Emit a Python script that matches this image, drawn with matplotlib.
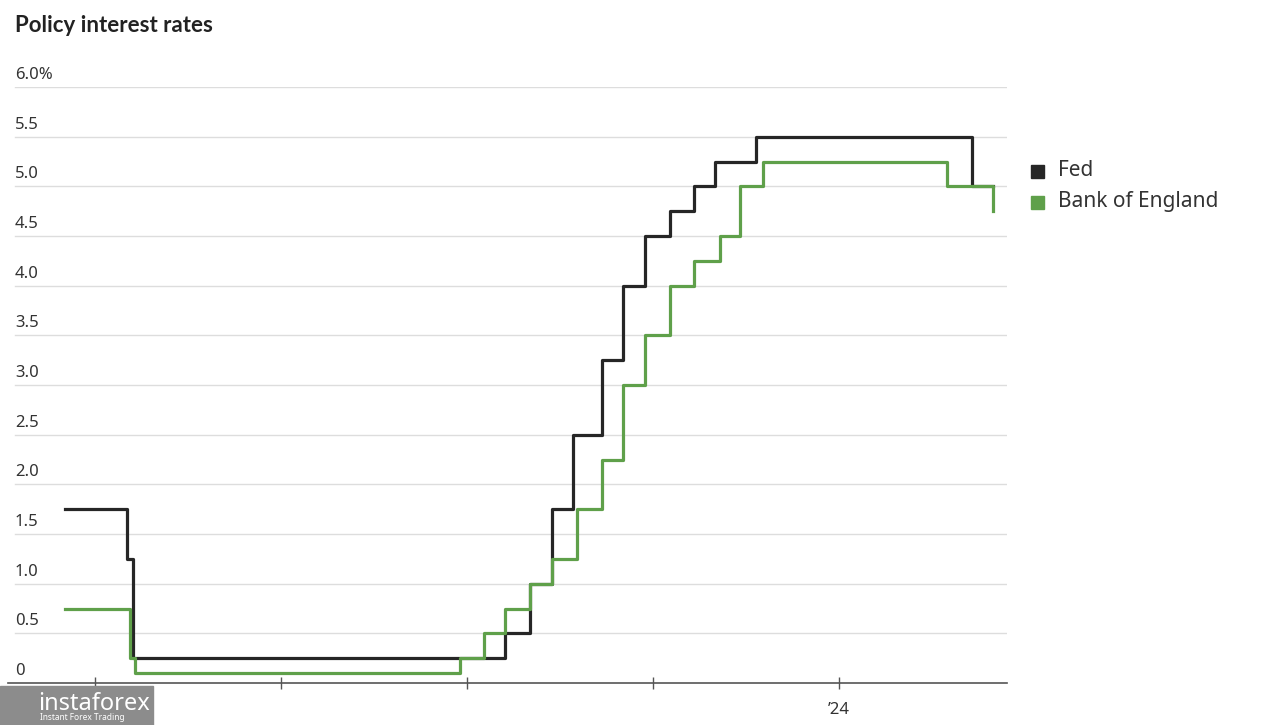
import matplotlib.pyplot as plt
import matplotlib.transforms as mtransforms
from matplotlib.patches import Rectangle

# Policy rates, step changes (fractional year, rate %)
fed_dates = [2019.84, 2020.17, 2020.205, 2022.205, 2022.34, 2022.455, 2022.57,
             2022.725, 2022.84, 2022.955, 2023.09, 2023.22, 2023.335, 2023.555,
             2024.715, 2024.83]
fed_rates = [1.75, 1.25, 0.25, 0.5, 1.0, 1.75, 2.5,
             3.25, 4.0, 4.5, 4.75, 5.0, 5.25, 5.5,
             5.0, 5.0]

boe_dates = [2019.84, 2020.19, 2020.215, 2021.96, 2022.09, 2022.205, 2022.34,
             2022.455, 2022.59, 2022.725, 2022.84, 2022.955, 2023.09, 2023.22,
             2023.36, 2023.47, 2023.59, 2024.58, 2024.83, 2024.83]
boe_rates = [0.75, 0.25, 0.1, 0.25, 0.5, 0.75, 1.0,
             1.25, 1.75, 2.25, 3.0, 3.5, 4.0, 4.25,
             4.5, 5.0, 5.25, 5.0, 4.75, 4.75]

y_ticks = [0, 0.5, 1.0, 1.5, 2.0, 2.5, 3.0, 3.5, 4.0, 4.5, 5.0, 5.5, 6.0]
y_labels = ['0', '0.5', '1.0', '1.5', '2.0', '2.5', '3.0', '3.5', '4.0', '4.5', '5.0', '5.5', '6.0%']
x_ticks = [2020, 2021, 2022, 2023, 2024]
x_labels = ['2020', '', '', '', '\u201924']

FED_COLOR = '#262626'
BOE_COLOR = '#5fa04a'
TEXT_COLOR = '#333333'

plt.rcParams['font.family'] = ['Noto Sans', 'DejaVu Sans']

fig = plt.figure(figsize=(12.8, 7.25), dpi=100)
ax = fig.add_axes([8 / 1280, 1 - 683 / 725, 999 / 1280, 596 / 725])

ax.plot(fed_dates, fed_rates, drawstyle='steps-post', color=FED_COLOR, lw=2.3)
ax.plot(boe_dates, boe_rates, drawstyle='steps-post', color=BOE_COLOR, lw=2.3)

ax.set_xlim(2019.532, 2024.903)
ax.set_ylim(0, 6.0)

# horizontal gridlines with labels sitting above them
trans = mtransforms.blended_transform_factory(ax.transAxes, ax.transData)
offset = mtransforms.ScaledTranslation(0, 4 / 100, fig.dpi_scale_trans)
for val, lab in zip(y_ticks, y_labels):
    if val > 0:
        ax.plot([7 / 999, 1], [val, val], transform=trans, color='#dddddd', lw=1, zorder=0)
    ax.text(7 / 999, val, lab, transform=trans + offset, ha='left', va='bottom',
            fontsize=12, color=TEXT_COLOR)

ax.set_yticks([])
ax.set_xticks(x_ticks)
ax.set_xticklabels(x_labels, fontsize=12, color=TEXT_COLOR)
ax.tick_params(axis='x', direction='inout', length=8, width=1, color='#555555', pad=10)

for side in ['top', 'right', 'left']:
    ax.spines[side].set_visible(False)
ax.spines['bottom'].set_color('#555555')
ax.spines['bottom'].set_linewidth(1.2)

fig.text(15 / 1280, 1 - 26 / 725, 'Policy interest rates', fontsize=16, fontweight='bold',
         family=['Lato', 'DejaVu Sans'], color='#222222', va='center', ha='left')

# legend
fig.patches.append(Rectangle((1031 / 1280, 1 - 178 / 725), 13 / 1280, 13 / 725,
                             transform=fig.transFigure, color=FED_COLOR))
fig.text(1058 / 1280, 1 - 171 / 725, 'Fed', fontsize=15, color=TEXT_COLOR, va='center')
fig.patches.append(Rectangle((1031 / 1280, 1 - 209 / 725), 13 / 1280, 13 / 725,
                             transform=fig.transFigure, color=BOE_COLOR))
fig.text(1058 / 1280, 1 - 202 / 725, 'Bank of England', fontsize=15, color=TEXT_COLOR, va='center')

# watermark
fig.patches.append(Rectangle((0, 0), 153 / 1280, 39 / 725, transform=fig.transFigure,
                             color='#8c8c8c', zorder=5))
fig.text(38 / 1280, 1 - 704 / 725, 'instaforex', fontsize=17, color='white', va='center',
         zorder=6)
fig.text(40 / 1280, 1 - 717 / 725, 'Instant Forex Trading', fontsize=6, color='white',
         va='center', zorder=6)

fig.savefig('out.png', dpi=100)
